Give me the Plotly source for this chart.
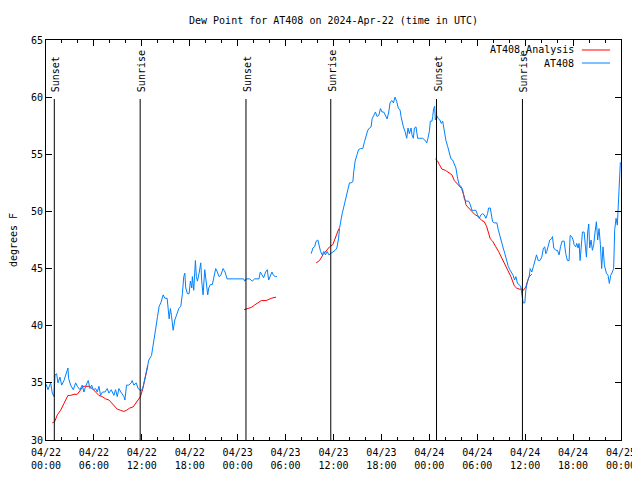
import pandas as pd
import plotly.graph_objects as go

# ---------------- data (hours after 2024-04-22 00:00 UTC) ----------------
obs_hours = [
    0.00, 0.25, 0.58, 0.79, 1.00, 1.13, 1.33, 1.50, 1.75, 1.96, 2.25, 2.50, 2.75, 2.83,
    3.08, 3.42, 3.71, 3.92, 4.25, 4.54, 4.75, 4.96, 5.29, 5.50, 5.71, 5.92, 6.21, 6.42,
    6.63, 6.83, 7.08, 7.38, 7.67, 7.88, 8.17, 8.50, 8.71, 8.92, 9.13, 9.46, 9.75, 9.88,
    10.08, 10.38, 10.67, 10.79, 11.00, 11.29, 11.54, 11.75, 11.96, 12.17, 12.33, 12.46,
    12.67, 12.88, 13.21, 13.42, 13.54, 13.75, 13.96, 14.17, 14.38, 14.67, 14.88, 15.17,
    15.42, 15.58, 15.71, 15.92, 16.13, 16.33, 16.63, 16.88, 17.08, 17.25, 17.38, 17.50,
    17.71, 17.92, 18.08, 18.25, 18.33, 18.50, 18.71, 18.83, 18.96, 19.17, 19.38, 19.50,
    19.67, 19.88, 20.08, 20.25, 20.38, 20.58, 20.83, 21.04, 21.25, 21.46, 21.67, 21.88,
    22.17, 22.42, 22.67, 23.50, 24.75, 24.88, 25.08, 25.50, 25.83, 26.13, 26.67, 26.83,
    27.04, 27.25, 27.50, 27.71, 27.88, 28.08, 28.29, 28.50, 28.71, 28.92,
    30.00,
    33.21, 33.42, 33.63, 33.83, 34.04, 34.17, 34.38, 34.58, 34.79, 35.00, 35.21, 35.42,
    35.63, 35.92, 36.21, 36.42, 36.63, 36.75, 36.96, 37.08, 37.29, 37.50, 37.71, 37.92,
    38.00, 38.21, 38.42, 38.54, 38.71, 38.92, 39.13, 39.38, 39.67, 39.88, 40.08, 40.29,
    40.50, 40.71, 40.83, 41.00, 41.25, 41.46, 41.67, 41.88, 42.08, 42.29, 42.50, 42.71,
    42.92, 43.08, 43.29, 43.50, 43.71, 43.92, 44.13, 44.33, 44.46, 44.58, 44.75, 44.96,
    45.17, 45.33, 45.50, 45.71, 45.83, 46.00, 46.13, 46.33, 46.54, 46.75, 47.17, 47.50,
    47.67, 47.83, 48.00, 48.13, 48.33, 48.42, 48.54, 48.67, 48.75, 48.92, 49.13, 49.33,
    49.50, 49.67, 49.88, 50.08, 50.29, 50.50, 50.71, 50.92, 51.13, 51.33, 51.54, 51.75,
    51.96, 52.17, 52.38, 52.58, 52.92, 53.13, 53.33, 53.63, 53.83, 54.04, 54.25, 54.46,
    54.67, 54.88, 55.08, 55.29, 55.42, 55.63, 55.75, 55.92, 56.13, 56.46, 56.63, 56.83,
    57.04, 57.25, 57.46, 57.67, 57.88, 58.08, 58.29, 58.50, 58.67, 58.83, 59.04, 59.25,
    59.46, 59.58, 59.75, 59.96, 60.08, 60.29, 60.50, 60.63, 60.83, 61.04, 61.25, 61.42,
    61.63, 61.83, 62.08, 62.29, 62.46, 62.58, 62.71, 62.92, 63.08, 63.29, 63.42, 63.58,
    63.83, 64.04, 64.25, 64.42, 64.63, 64.88, 65.08, 65.29, 65.50, 65.63, 65.83, 66.00,
    66.13, 66.33, 66.46, 66.63, 66.75, 66.88, 67.00, 67.17, 67.38, 67.50, 67.67, 67.83,
    67.96, 68.08, 68.25, 68.42, 68.58, 68.75, 68.92, 69.08, 69.25, 69.42, 69.58, 69.75,
    69.92, 70.17, 70.38, 70.54, 70.71, 70.92, 71.08, 71.21, 71.38, 71.54, 71.67, 71.75,
    71.83, 71.92,
]
obs_dewpt = [
    34.9, 34.4, 35.0, 34.1, 33.8, 35.7, 35.8, 35.0, 35.5, 34.8, 35.2, 35.7, 36.3, 35.4,
    34.8, 34.4, 35.0, 34.7, 34.4, 34.8, 34.2, 34.7, 35.2, 34.5, 34.8, 34.4, 34.5, 34.2,
    34.7, 33.9, 34.2, 34.2, 34.5, 34.1, 34.4, 33.9, 34.4, 33.8, 34.5, 34.1, 33.8, 33.5,
    34.8, 34.8, 35.0, 35.2, 34.8, 35.0, 34.5, 34.4, 34.3, 34.7, 35.2, 35.8,
    36.4, 37.0, 37.4, 38.2, 39.0, 39.8, 40.8, 41.7, 42.0, 42.7, 42.4, 42.4,
    40.6, 41.5, 40.9, 39.6, 40.5, 40.9, 41.5, 41.7, 42.8, 44.3, 44.6, 43.3,
    42.8, 42.8, 43.9, 43.3, 44.3, 43.1, 45.7, 44.3, 43.9, 44.6, 45.5, 43.9,
    42.7, 44.9, 43.4, 42.7, 43.3, 43.6, 43.6, 44.4, 45.0, 44.7, 44.3, 44.4,
    45.0, 44.7, 44.1, 44.1, 44.1, 43.9, 44.1, 44.1, 43.9, 44.1, 44.1, 44.7,
    44.4, 44.2, 44.7, 44.9, 44.0, 44.3, 44.7, 44.4, 44.3, 44.3,
    None,
    46.3, 46.8, 46.9, 47.4, 47.5, 47.1, 46.5, 46.2, 46.5, 46.2, 46.5, 46.2,
    46.3, 46.5, 46.6, 46.8, 47.6, 48.5, 49.4, 49.8, 50.4, 51.0, 51.4, 52.2,
    52.5, 52.5, 52.6, 53.5, 54.4, 54.9, 55.4, 55.5, 55.5, 56.1, 56.7, 57.1,
    57.3, 57.4, 58.1, 58.4, 58.7, 58.3, 58.4, 59.0, 58.7, 58.7, 58.4, 58.1,
    58.7, 59.5, 59.7, 59.5, 60.0, 59.6, 59.0, 58.9, 58.3, 57.8, 57.4, 57.0,
    56.4, 57.3, 56.8, 57.3, 56.7, 56.4, 57.3, 57.4, 56.4, 56.4, 56.4, 56.2,
    56.0, 56.4, 57.0, 57.9, 57.9, 58.3, 59.0, 59.2, 58.0, 58.4, 58.1, 58.0,
    57.7, 57.9, 57.0, 56.2, 55.7, 55.2, 54.6, 54.5, 54.2, 53.8, 52.9, 52.3,
    52.2, 51.9, 51.1, 50.9, 50.9, 50.6, 50.1, 50.1, 50.1, 49.7, 49.4, 49.7,
    49.8, 49.7, 49.4, 49.8, 50.3, 50.3, 49.8, 49.1, 49.0, 49.0, 48.4, 47.8,
    47.2, 46.8, 46.3, 45.7, 45.2, 44.9, 44.7, 44.4, 44.0, 44.3, 43.7, 43.6,
    43.4, 42.8, 42.0, 42.0, 43.1, 43.9, 44.3, 45.0, 44.7, 45.2, 45.9, 46.2,
    45.7, 45.7, 46.0, 46.8, 46.9, 46.3, 46.5, 47.2, 47.5, 47.6, 47.8, 46.8,
    46.6, 46.6, 46.2, 46.9, 47.4, 47.4, 46.3, 45.7, 45.7, 47.9, 47.8, 47.5,
    47.1, 46.9, 47.2, 46.8, 47.2, 45.7, 46.8, 48.2, 48.2, 47.4, 46.0, 48.2,
    48.9, 46.8, 47.5, 46.6, 47.1, 48.2, 49.1, 47.5, 48.5, 47.1, 45.0, 46.9,
    45.3, 44.6, 44.4, 43.7, 44.4, 44.7, 45.0, 48.4, 49.4, 48.8, 51.0, 52.6,
    53.9, 54.3,
]

ana_hours = [
    0.79, 1.08, 1.42, 1.83, 2.25, 2.75, 3.08, 3.50, 3.92, 4.33, 4.67, 4.96, 5.38, 5.79,
    6.21, 6.63, 7.04, 7.46, 7.88, 8.29, 8.58, 8.92, 9.33, 9.75, 10.08, 10.50, 10.92,
    11.21, 11.50, 11.83, 12.13, 12.33, 12.58, 12.75,
    18.00,
    24.79, 25.30, 25.70, 26.10, 26.50, 26.96, 27.58, 28.20, 28.80,
    31.00,
    33.83, 34.25, 34.67, 35.08, 35.50, 35.92, 36.21, 36.46, 36.67,
    42.00,
    48.75, 49.04, 49.25, 49.58, 50.00, 50.42, 50.83, 51.13, 51.42, 51.75, 52.04, 52.38,
    52.58, 52.79, 53.08, 53.42, 53.75, 54.04, 54.33, 54.58, 54.88, 55.17, 55.42, 55.63,
    55.92, 56.13, 56.33, 56.67, 56.88, 57.08, 57.38, 57.67, 58.00, 58.21, 58.42, 58.63,
    58.92, 59.25, 59.58, 59.79, 60.08, 60.29, 60.50, 60.83,
]
ana_dewpt = [
    31.5, 31.6, 32.2, 32.6, 33.2, 33.9, 33.9, 34.0, 34.0, 34.4, 34.7, 34.7, 34.7, 34.5,
    34.2, 33.9, 33.8, 33.6, 33.5, 33.2, 32.9, 32.7, 32.6, 32.5, 32.6, 32.8, 32.9,
    33.2, 33.4, 33.8, 34.5, 35.2, 35.8, 36.5,
    None,
    41.4, 41.5, 41.6, 41.8, 42.0, 42.2, 42.2, 42.4, 42.5,
    None,
    45.5, 45.7, 46.2, 46.5, 46.9, 47.1, 47.6, 48.2, 48.5,
    None,
    54.6, 54.4, 54.1, 53.7, 53.6, 53.4, 53.2, 52.7, 52.5, 52.2, 52.0, 51.3,
    50.6, 50.4, 50.2, 49.9, 49.7, 49.6, 49.4, 49.2, 49.1, 48.7, 48.1, 47.6,
    47.4, 47.1, 46.9, 46.5, 46.2, 45.9, 45.5, 45.1, 44.7, 44.3, 43.9, 43.5,
    43.3, 43.2, 43.2, 43.1, 43.4, 43.9, 44.3, 44.5,
]

sun_hours = [1.04, 11.79, 25.04, 35.66, 48.90, 59.66]
sun_labels = ["Sunset", "Sunrise", "Sunset", "Sunrise", "Sunset", "Sunrise"]

series_names = ["AT408_Analysis", "AT408"]
series_colors = ["#ff0000", "#0080ff"]

# ---------------- build ----------------
base = pd.Timestamp("2024-04-22 00:00")
to_time = lambda hrs: [base + pd.Timedelta(hours=h) for h in hrs]

# the page body adds an 8 px margin, so the figure is 632x472 and offsets are reduced by 8
FIG_W, FIG_H = 632, 472
FONT = "DejaVu Sans Mono"
fig = go.Figure()
fig.add_trace(go.Scatter(x=to_time(ana_hours), y=ana_dewpt, mode="lines",
                         name=series_names[0], connectgaps=False,
                         line=dict(color=series_colors[0], width=1)))
fig.add_trace(go.Scatter(x=to_time(obs_hours), y=obs_dewpt, mode="lines",
                         name=series_names[1], connectgaps=False,
                         line=dict(color=series_colors[1], width=1)))

for t, lab in zip(to_time(sun_hours), sun_labels):
    fig.add_shape(type="line", xref="x", yref="paper", x0=t, x1=t, y0=0, y1=0.8525,
                  line=dict(color="black", width=1))
    fig.add_annotation(x=t, xref="x", y=0.865, yref="paper", text=lab, textangle=-90,
                       showarrow=False, xanchor="center", yanchor="bottom", xshift=1,
                       font=dict(family=FONT, size=10, color="black"))

# legend (gnuplot style: text then sample to its right)
leg_y = [0.975, 0.9425]
for name, col, yy in zip(series_names, series_colors, leg_y):
    fig.add_annotation(x=0.922, xref="paper", y=yy, yref="paper", text=name,
                       showarrow=False, xanchor="right", yanchor="middle",
                       font=dict(family=FONT, size=10, color="black"))
    fig.add_shape(type="line", xref="paper", yref="paper", x0=0.932, x1=0.981,
                  y0=yy, y1=yy, line=dict(color=col, width=1))

fig.update_layout(
    width=FIG_W, height=FIG_H,
    margin=dict(l=38, r=19, t=32, b=40),
    paper_bgcolor="white", plot_bgcolor="white",
    showlegend=False,
    font=dict(family=FONT, size=10, color="black"),
    title=dict(text="Dew Point for AT408 on 2024-Apr-22 (time in UTC)",
               x=0.5, xref="paper", xanchor="center",
               y=1 - 12 / FIG_H, yref="container", yanchor="middle",
               font=dict(family=FONT, size=10, color="black")),
)
fig.update_xaxes(
    automargin=False,
    range=[base, base + pd.Timedelta(hours=72)],
    tick0=base, dtick=6 * 3600 * 1000, tickformat="%m/%d<br>%H:%M",
    ticks="inside", ticklen=6, tickcolor="black", ticklabelstandoff=3,
    minor=dict(dtick=2 * 3600 * 1000, ticks="inside", ticklen=3, tickcolor="black", showgrid=False),
    showline=True, linecolor="black", linewidth=1, mirror="ticks",
    showgrid=False, zeroline=False,
    tickfont=dict(family=FONT, size=10, color="black"),
)
fig.update_yaxes(
    automargin=False,
    range=[30, 65], dtick=5, tick0=30,
    ticks="inside", ticklen=6, tickcolor="black",
    showline=True, linecolor="black", linewidth=1, mirror="ticks",
    showgrid=False, zeroline=False,
    title=dict(text="degrees F", standoff=16, font=dict(family=FONT, size=10, color="black")),
    tickfont=dict(family=FONT, size=10, color="black"),
)

fig.write_html("out.html")
